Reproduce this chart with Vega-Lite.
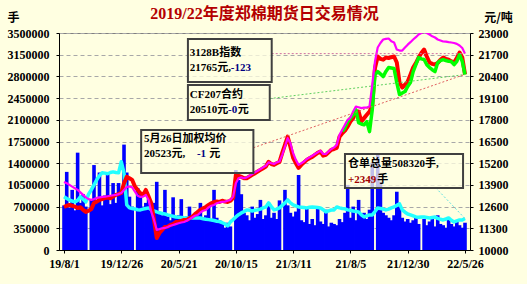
{
"$schema":"https://vega.github.io/schema/vega-lite/v6.json",
"width":411,"height":217,
"autosize":{"type":"none"},
"padding":{"left":59,"top":33,"right":57,"bottom":34},
"background":"#FFFFE1",
"config":{"view":{"stroke":"#808080","fill":"#FFFFE1"}},
"title":{"text":"2019/22年度郑棉期货日交易情况","font":"Liberation Serif, Noto Sans CJK SC","fontSize":16,"fontWeight":"bold","color":"#B40000","anchor":"middle","offset":8,"dy":19},
"datasets":{
"lines":[
{"d":"2019-08-01","vol":720000,"oi":857000,"idx":14080,"fut":12580},
{"d":"2019-08-08","vol":1260000,"oi":830000,"idx":14000,"fut":12650},
{"d":"2019-08-15","vol":680000,"oi":808000,"idx":13900,"fut":12700},
{"d":"2019-08-22","vol":970000,"oi":790000,"idx":13800,"fut":12650},
{"d":"2019-08-29","vol":640000,"oi":776000,"idx":13700,"fut":12600},
{"d":"2019-09-05","vol":1570000,"oi":800000,"idx":13600,"fut":12520},
{"d":"2019-09-12","vol":760000,"oi":857000,"idx":13450,"fut":12560},
{"d":"2019-09-19","vol":900000,"oi":820000,"idx":13300,"fut":12400},
{"d":"2019-09-26","vol":700000,"oi":776000,"idx":13150,"fut":12280},
{"d":"2019-10-03","oi":900000,"idx":13050,"fut":12350},
{"d":"2019-10-10","vol":820000,"oi":970000,"idx":13000,"fut":12450},
{"d":"2019-10-17","vol":1370000,"oi":1050000,"idx":13050,"fut":12820},
{"d":"2019-10-24","vol":760000,"oi":1132000,"idx":13120,"fut":12900},
{"d":"2019-10-31","vol":1250000,"oi":1200000,"idx":13150,"fut":13000},
{"d":"2019-11-07","vol":720000,"oi":1245000,"idx":13180,"fut":13050},
{"d":"2019-11-14","vol":880000,"oi":1240000,"idx":13200,"fut":13120},
{"d":"2019-11-21","vol":1250000,"oi":1230000,"idx":13220,"fut":13150},
{"d":"2019-11-28","vol":740000,"oi":1250000,"idx":13250,"fut":13100},
{"d":"2019-12-05","vol":1080000,"oi":1260000,"idx":13280,"fut":13200},
{"d":"2019-12-12","vol":760000,"oi":1250000,"idx":13300,"fut":13300},
{"d":"2019-12-19","vol":1080000,"oi":1245000,"idx":13350,"fut":13350},
{"d":"2019-12-26","vol":900000,"oi":1423000,"idx":13420,"fut":13420},
{"d":"2020-01-02","vol":1700000,"oi":1245000,"idx":13600,"fut":14000},
{"d":"2020-01-09","vol":1250000,"oi":727000,"idx":13780,"fut":14380},
{"d":"2020-01-16","vol":860000,"oi":679000,"idx":13800,"fut":14300},
{"d":"2020-01-23","vol":700000,"oi":670000,"idx":13750,"fut":14200},
{"d":"2020-01-30","oi":660000,"idx":13500,"fut":13800},
{"d":"2020-02-06","vol":1000000,"oi":650000,"idx":13250,"fut":13600},
{"d":"2020-02-13","vol":920000,"oi":647000,"idx":13180,"fut":13400},
{"d":"2020-02-20","vol":700000,"oi":660000,"idx":13200,"fut":13300},
{"d":"2020-02-27","vol":760000,"oi":670000,"idx":13300,"fut":13600},
{"d":"2020-03-05","vol":820000,"oi":679000,"idx":13000,"fut":13200},
{"d":"2020-03-12","vol":640000,"oi":650000,"idx":12280,"fut":12800},
{"d":"2020-03-19","vol":760000,"oi":630000,"idx":11800,"fut":11800},
{"d":"2020-03-26","vol":1100000,"oi":614000,"idx":11200,"fut":10720},
{"d":"2020-04-02","vol":600000,"oi":600000,"idx":11250,"fut":11020},
{"d":"2020-04-09","vol":560000,"oi":590000,"idx":11300,"fut":11200},
{"d":"2020-04-16","vol":970000,"oi":580000,"idx":11320,"fut":11380},
{"d":"2020-04-23","vol":540000,"oi":566000,"idx":11380,"fut":11400},
{"d":"2020-04-30","vol":480000,"oi":555000,"idx":11450,"fut":11500},
{"d":"2020-05-07","vol":850000,"oi":545000,"idx":11500,"fut":11550},
{"d":"2020-05-14","vol":520000,"oi":533000,"idx":11550,"fut":11680},
{"d":"2020-05-21","vol":560000,"oi":530000,"idx":11600,"fut":11700},
{"d":"2020-05-28","vol":820000,"oi":525000,"idx":11650,"fut":11750},
{"d":"2020-06-04","vol":500000,"oi":520000,"idx":11680,"fut":11800},
{"d":"2020-06-11","vol":540000,"oi":517000,"idx":11750,"fut":11800},
{"d":"2020-06-18","vol":700000,"oi":517000,"idx":11850,"fut":11900},
{"d":"2020-06-25","vol":500000,"oi":517000,"idx":11950,"fut":12000},
{"d":"2020-07-02","vol":560000,"oi":515000,"idx":12050,"fut":12150},
{"d":"2020-07-09","vol":600000,"oi":517000,"idx":12100,"fut":12280},
{"d":"2020-07-16","vol":760000,"oi":517000,"idx":12250,"fut":12400},
{"d":"2020-07-23","vol":520000,"oi":505000,"idx":12350,"fut":12500},
{"d":"2020-07-30","vol":560000,"oi":495000,"idx":12400,"fut":12580},
{"d":"2020-08-06","vol":700000,"oi":490000,"idx":12550,"fut":12700},
{"d":"2020-08-13","vol":500000,"oi":485000,"idx":12650,"fut":12800},
{"d":"2020-08-20","vol":970000,"oi":475000,"idx":12700,"fut":12880},
{"d":"2020-08-27","vol":520000,"oi":465000,"idx":12800,"fut":12900},
{"d":"2020-09-03","vol":480000,"oi":458000,"idx":12850,"fut":12880},
{"d":"2020-09-10","vol":420000,"oi":440000,"idx":12880,"fut":12950},
{"d":"2020-09-17","vol":360000,"oi":420000,"idx":12900,"fut":12900},
{"d":"2020-09-24","vol":440000,"oi":388000,"idx":12950,"fut":12880},
{"d":"2020-10-01","vol":380000,"oi":453000,"idx":13000,"fut":12950},
{"d":"2020-10-08","oi":490000,"idx":13200,"fut":13120},
{"d":"2020-10-15","vol":1290000,"oi":533000,"idx":14000,"fut":14500},
{"d":"2020-10-22","vol":1130000,"oi":570000,"idx":14300,"fut":14450},
{"d":"2020-10-29","vol":900000,"oi":598000,"idx":14350,"fut":14380},
{"d":"2020-11-05","vol":600000,"oi":620000,"idx":14300,"fut":14300},
{"d":"2020-11-12","vol":560000,"oi":647000,"idx":14350,"fut":14300},
{"d":"2020-11-19","vol":480000,"oi":640000,"idx":14450,"fut":14400},
{"d":"2020-11-26","vol":700000,"oi":630000,"idx":14550,"fut":14500},
{"d":"2020-12-03","vol":520000,"oi":640000,"idx":14650,"fut":14600},
{"d":"2020-12-10","vol":580000,"oi":647000,"idx":14750,"fut":14700},
{"d":"2020-12-17","vol":808000,"oi":660000,"idx":14850,"fut":14800},
{"d":"2020-12-24","vol":500000,"oi":680000,"idx":14950,"fut":14900},
{"d":"2020-12-31","vol":560000,"oi":695000,"idx":15050,"fut":15000},
{"d":"2021-01-07","vol":760000,"oi":760000,"idx":15250,"fut":15280},
{"d":"2021-01-14","vol":520000,"oi":700000,"idx":15200,"fut":15150},
{"d":"2021-01-21","vol":600000,"oi":647000,"idx":15150,"fut":15100},
{"d":"2021-01-28","vol":500000,"oi":660000,"idx":15250,"fut":15200},
{"d":"2021-02-04","vol":800000,"oi":680000,"idx":15300,"fut":15280},
{"d":"2021-02-11","oi":720000,"idx":15700,"fut":15820},
{"d":"2021-02-18","vol":970000,"oi":760000,"idx":16200,"fut":16300},
{"d":"2021-02-25","vol":720000,"oi":808000,"idx":16700,"fut":16790},
{"d":"2021-03-04","vol":600000,"oi":760000,"idx":16400,"fut":16190},
{"d":"2021-03-11","vol":540000,"oi":727000,"idx":15800,"fut":15520},
{"d":"2021-03-18","vol":620000,"oi":710000,"idx":15400,"fut":15200},
{"d":"2021-03-25","vol":1210000,"oi":695000,"idx":15100,"fut":14920},
{"d":"2021-04-01","vol":480000,"oi":690000,"idx":15200,"fut":15100},
{"d":"2021-04-08","vol":450000,"oi":685000,"idx":15300,"fut":15250},
{"d":"2021-04-15","vol":680000,"oi":679000,"idx":15450,"fut":15400},
{"d":"2021-04-22","vol":420000,"oi":690000,"idx":15550,"fut":15500},
{"d":"2021-04-29","vol":500000,"oi":695000,"idx":15650,"fut":15580},
{"d":"2021-05-06","vol":400000,"oi":690000,"idx":15750,"fut":15700},
{"d":"2021-05-13","vol":700000,"oi":685000,"idx":15850,"fut":15820},
{"d":"2021-05-20","vol":460000,"oi":679000,"idx":15950,"fut":15900},
{"d":"2021-05-27","vol":420000,"oi":650000,"idx":15750,"fut":15650},
{"d":"2021-06-03","vol":650000,"oi":614000,"idx":15750,"fut":15700},
{"d":"2021-06-10","vol":380000,"oi":630000,"idx":15900,"fut":15850},
{"d":"2021-06-17","vol":440000,"oi":645000,"idx":16050,"fut":16000},
{"d":"2021-06-24","vol":420000,"oi":647000,"idx":16150,"fut":16050},
{"d":"2021-07-01","vol":400000,"oi":695000,"idx":16300,"fut":16120},
{"d":"2021-07-08","vol":500000,"oi":679000,"idx":16900,"fut":16790},
{"d":"2021-07-15","vol":450000,"oi":670000,"idx":17200,"fut":17000,"cf":17100},
{"d":"2021-07-22","vol":600000,"oi":665000,"idx":17500,"fut":17150,"cf":17330},
{"d":"2021-07-29","vol":1050000,"oi":647000,"idx":17800,"fut":17400,"cf":17690},
{"d":"2021-08-05","vol":520000,"oi":640000,"idx":17930,"fut":17700,"cf":17900},
{"d":"2021-08-12","vol":700000,"oi":630000,"idx":18300,"fut":17900,"cf":18100},
{"d":"2021-08-19","vol":480000,"oi":620000,"idx":18590,"fut":18300,"cf":18400},
{"d":"2021-08-26","vol":808000,"oi":614000,"idx":18550,"fut":18290,"cf":17630},
{"d":"2021-09-02","vol":560000,"oi":566000,"idx":18500,"fut":17700,"cf":17550},
{"d":"2021-09-09","vol":600000,"oi":533000,"idx":18530,"fut":17900,"cf":17500},
{"d":"2021-09-16","vol":500000,"oi":550000,"idx":18530,"fut":18100,"cf":17690},
{"d":"2021-09-23","vol":650000,"oi":566000,"idx":18600,"fut":18290,"cf":17090},
{"d":"2021-09-30","vol":1410000,"oi":566000,"idx":19900,"fut":18700,"cf":18400},
{"d":"2021-10-07","oi":620000,"idx":21290,"fut":20900,"cf":20510},
{"d":"2021-10-14","vol":1550000,"oi":679000,"idx":22130,"fut":21590,"cf":20690},
{"d":"2021-10-21","vol":1100000,"oi":670000,"idx":22400,"fut":21450,"cf":20550},
{"d":"2021-10-28","vol":600000,"oi":660000,"idx":22610,"fut":21400,"cf":20390},
{"d":"2021-11-04","vol":560000,"oi":647000,"idx":22650,"fut":21530,"cf":20700},
{"d":"2021-11-11","vol":520000,"oi":660000,"idx":22670,"fut":21500,"cf":20930},
{"d":"2021-11-18","vol":480000,"oi":680000,"idx":22500,"fut":21550,"cf":20900},
{"d":"2021-11-25","vol":560000,"oi":695000,"idx":22430,"fut":21590,"cf":20870},
{"d":"2021-12-02","vol":940000,"oi":720000,"idx":22010,"fut":21230,"cf":20030},
{"d":"2021-12-09","vol":700000,"oi":744000,"idx":21950,"fut":20030,"cf":19310},
{"d":"2021-12-16","vol":520000,"oi":647000,"idx":21950,"fut":19730,"cf":19400},
{"d":"2021-12-23","vol":460000,"oi":610000,"idx":22130,"fut":19900,"cf":19490},
{"d":"2021-12-30","vol":500000,"oi":580000,"idx":22300,"fut":20090,"cf":19800},
{"d":"2022-01-06","vol":440000,"oi":566000,"idx":22450,"fut":20500,"cf":20030},
{"d":"2022-01-13","vol":480000,"oi":550000,"idx":22610,"fut":20930,"cf":20690},
{"d":"2022-01-20","vol":520000,"oi":533000,"idx":22750,"fut":21200,"cf":21100},
{"d":"2022-01-27","vol":420000,"oi":530000,"idx":22910,"fut":21530,"cf":21530},
{"d":"2022-02-03","oi":533000,"idx":23000,"fut":21800,"cf":21450},
{"d":"2022-02-10","vol":500000,"oi":533000,"idx":23090,"fut":22010,"cf":21410},
{"d":"2022-02-17","vol":400000,"oi":525000,"idx":23000,"fut":21590,"cf":21100},
{"d":"2022-02-24","vol":460000,"oi":517000,"idx":22910,"fut":21230,"cf":20930},
{"d":"2022-03-03","vol":520000,"oi":525000,"idx":22800,"fut":21150,"cf":20800},
{"d":"2022-03-10","vol":380000,"oi":533000,"idx":22730,"fut":21110,"cf":20690},
{"d":"2022-03-17","vol":560000,"oi":510000,"idx":22610,"fut":21200,"cf":21230},
{"d":"2022-03-24","vol":420000,"oi":495000,"idx":22550,"fut":21400,"cf":21350},
{"d":"2022-03-31","vol":400000,"oi":485000,"idx":22490,"fut":21530,"cf":21410},
{"d":"2022-04-07","vol":360000,"oi":500000,"idx":22480,"fut":21450,"cf":21350},
{"d":"2022-04-14","vol":500000,"oi":517000,"idx":22450,"fut":21400,"cf":21300},
{"d":"2022-04-21","vol":420000,"oi":480000,"idx":22430,"fut":21300,"cf":21290},
{"d":"2022-04-28","vol":380000,"oi":453000,"idx":22400,"fut":21230,"cf":21100},
{"d":"2022-05-05","vol":460000,"oi":470000,"idx":22350,"fut":21500,"cf":21300},
{"d":"2022-05-12","vol":400000,"oi":485000,"idx":22250,"fut":21830,"cf":21700},
{"d":"2022-05-19","vol":360000,"oi":485000,"idx":22100,"fut":21530,"cf":21300},
{"d":"2022-05-26","vol":440000,"oi":508320,"idx":21765,"fut":20523,"cf":20510}
],
"boxes":[
{"d":"2020-06-14","d2":"2021-01-15","v":22640,"v2":20063},
{"d":"2020-06-14","d2":"2021-01-10","v":19880,"v2":17790},
{"d":"2020-02-15","d2":"2020-11-29","v":17190,"v2":14610},
{"d":"2021-07-22","d2":"2022-05-21","v":15750,"v2":13715}
],
"leaders":[
{"d":"2021-01-15","d2":"2022-05-26","v":21765,"v2":21765,"s":"idx"},
{"d":"2021-01-10","d2":"2022-05-26","v":19070,"v2":20510,"s":"cf"},
{"d":"2020-11-29","d2":"2022-05-26","v":16125,"v2":20523,"s":"fut"},
{"d":"2022-03-12","d2":"2022-05-26","v":13723,"v2":11886,"s":"oi"}
],
"texts":[
{"d":"2020-06-19","v":21800,"t":"3128B指数","k":"a"},
{"d":"2020-06-19","v":20900,"t":"21765元,","k":"a"},
{"d":"2020-10-02","v":20900,"t":"-123","k":"b"},
{"d":"2020-06-19","v":19285,"t":"CF207合约","k":"a"},
{"d":"2020-06-19","v":18386,"t":"20510元","k":"a"},
{"d":"2020-09-25","v":18386,"t":"-0","k":"b"},
{"d":"2020-10-20","v":18386,"t":"元","k":"a"},
{"d":"2020-02-22","v":16650,"t":"5月26日加权均价","k":"a"},
{"d":"2020-02-22","v":15750,"t":"20523元,","k":"a"},
{"d":"2020-07-07","v":15750,"t":"-1","k":"b"},
{"d":"2020-08-08","v":15750,"t":"元","k":"a"},
{"d":"2021-07-30","v":15150,"t":"仓单总量508320手,","k":"a"},
{"d":"2021-07-30","v":14190,"t":"+2349","k":"c"},
{"d":"2021-10-13","v":14190,"t":"手","k":"a"}
]
},
"encoding":{
"x":{"field":"d","type":"temporal",
"scale":{"type":"utc","domain":[{"year":2019,"month":8,"date":1,"utc":true},{"year":2022,"month":5,"date":26,"utc":true}]},
"axis":{"title":null,"grid":false,"format":"%y/%-m/%-d",
"values":[{"year":2019,"month":8,"date":1,"utc":true},{"year":2019,"month":12,"date":26,"utc":true},{"year":2020,"month":5,"date":21,"utc":true},{"year":2020,"month":10,"date":15,"utc":true},{"year":2021,"month":3,"date":11,"utc":true},{"year":2021,"month":8,"date":5,"utc":true},{"year":2021,"month":12,"date":30,"utc":true},{"year":2022,"month":5,"date":26,"utc":true}],
"labelFont":"Liberation Serif","labelFontWeight":"bold","labelFontSize":12,"labelColor":"#000000","labelPadding":5,"labelFlush":false,"labelOverlap":false,
"domainColor":"#000000","tickColor":"#000000","tickSize":3}}
},
"layer":[
{"data":{"name":"lines"},"mark":{"type":"bar","width":3.6,"color":"#0000FF","clip":true},
"encoding":{"y":{"field":"vol","type":"quantitative","scale":{"domain":[0,3500000],"nice":false,"zero":true},
"axis":{"orient":"left","values":[0,350000,700000,1050000,1400000,1750000,2100000,2450000,2800000,3150000,3500000],"format":"d",
"grid":true,"gridColor":"#A8A8A8","gridDash":[4,3],"gridWidth":1,
"domainColor":"#000000","tickColor":"#000000","tickSize":3,"labelPadding":7,
"labelFont":"Liberation Serif","labelFontWeight":"bold","labelFontSize":12,"labelColor":"#000000",
"title":"手","titleAngle":0,"titleX":-46,"titleY":-16,"titleAlign":"center","titleBaseline":"middle","titleFont":"Noto Sans CJK SC","titleFontSize":12,"titleFontWeight":"bold","titleColor":"#000000"}}}},
{"data":{"name":"lines"},"mark":{"type":"line","color":"#22FFFF","strokeWidth":3.5,"strokeJoin":"round","clip":true},
"encoding":{"y":{"field":"oi","type":"quantitative","scale":{"domain":[0,3500000],"nice":false,"zero":true},"axis":null}}},
{"data":{"name":"lines"},"mark":{"type":"line","color":"#FF0000","strokeWidth":4,"strokeJoin":"round","clip":true},
"encoding":{"y":{"field":"fut","type":"quantitative","scale":{"domain":[10000,23000],"nice":false,"zero":false},
"axis":{"orient":"right","values":[10000,11300,12600,13900,15200,16500,17800,19100,20400,21700,23000],"format":"d","grid":false,
"domainColor":"#000000","tickColor":"#000000","tickSize":3,"labelPadding":5,
"labelFont":"Liberation Serif","labelFontWeight":"bold","labelFontSize":12,"labelColor":"#000000",
"title":"元/吨","titleAngle":0,"titleX":28,"titleY":-16,"titleAlign":"center","titleBaseline":"middle","titleFont":"Noto Sans CJK SC","titleFontSize":12,"titleFontWeight":"bold","titleColor":"#000000"}}}},
{"data":{"name":"lines"},"mark":{"type":"line","color":"#00FF00","strokeWidth":3.5,"strokeJoin":"round","clip":true},
"encoding":{"y":{"field":"cf","type":"quantitative","scale":{"domain":[10000,23000],"nice":false,"zero":false},"axis":null}}},
{"data":{"name":"lines"},"mark":{"type":"line","color":"#FF00FF","strokeWidth":2.2,"strokeJoin":"round","clip":true},
"encoding":{"y":{"field":"idx","type":"quantitative","scale":{"domain":[10000,23000],"nice":false,"zero":false},"axis":null}}},
{"data":{"name":"leaders"},"mark":{"type":"rule","strokeWidth":1,"strokeDash":[2,2]},
"encoding":{"x2":{"field":"d2"},"y":{"field":"v","type":"quantitative","scale":{"domain":[10000,23000],"nice":false,"zero":false},"axis":null},"y2":{"field":"v2"},
"color":{"field":"s","type":"nominal","legend":null,"scale":{"domain":["idx","cf","fut","oi"],"range":["#D070A0","#60D060","#E06060","#60E0E0"]}}}},
{"data":{"name":"boxes"},"mark":{"type":"rect","fill":"#FFFFE1","fillOpacity":0.75,"stroke":"#404040","strokeWidth":2},
"encoding":{"x2":{"field":"d2"},"y":{"field":"v","type":"quantitative","scale":{"domain":[10000,23000],"nice":false,"zero":false},"axis":null},"y2":{"field":"v2"}}},
{"data":{"name":"texts"},"mark":{"type":"text","align":"left","baseline":"middle","font":"Liberation Serif, Noto Sans CJK SC","fontSize":11,"fontWeight":"bold"},
"encoding":{"y":{"field":"v","type":"quantitative","scale":{"domain":[10000,23000],"nice":false,"zero":false},"axis":null},"text":{"field":"t"},
"color":{"field":"k","type":"nominal","legend":null,"scale":{"domain":["a","b","c"],"range":["#000000","#000080","#A00000"]}}}}
],
"resolve":{"scale":{"y":"independent","color":"independent"},"axis":{"y":"independent"}}
}
